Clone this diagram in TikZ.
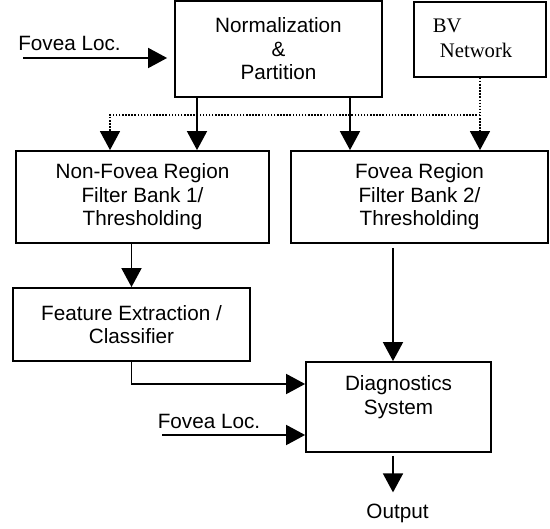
\documentclass[tikz,border=0pt]{standalone}
\usepackage{fontspec}
\setmainfont{Liberation Sans}
\newfontfamily\bvfont{Liberation Serif}
\usetikzlibrary{arrows.meta}

\begin{document}
\begin{tikzpicture}
  [x=1pt,y=-1pt,line width=1.8pt,
   every node/.style={font=\fontsize{20.7}{23.5}\selectfont,align=center},
   blk/.style={draw,rectangle,inner sep=0pt},
   arr/.style={-{Triangle[length=19pt,width=20pt]}},
   dots/.style={line width=1.5pt,dash pattern=on 1.5pt off 1.6pt}]
  \useasboundingbox (0,0) rectangle (550,529);
  \node[blk,minimum width=207,minimum height=96] (norm) at (278.5,49) {Normalization\\\&\\Partition};
  \node[blk,minimum width=132,minimum height=75] (bv) at (480,39.5) {};
  \node[anchor=north west,align=left,inner sep=0pt,
        font=\bvfont\fontsize{20.7}{25}\selectfont] (bvtxt) at (432,18) {BV\\\hspace*{7pt}Network};
  \node[blk,minimum width=253,minimum height=92] (nonfov) at (142.5,197) {Non-Fovea Region\\Filter Bank 1/\\Thresholding};
  \node[blk,minimum width=257,minimum height=92] (fov) at (419.5,197) {Fovea Region\\Filter Bank 2/\\Thresholding};
  \node[blk,minimum width=237,minimum height=73] (feat) at (131.5,324.5) {Feature Extraction /\\Classifier};
  \node[blk,minimum width=185,minimum height=90] (diag) at (398.5,407) {Diagnostics\\System\\~};
  \node (locA) at (69.5,43) {Fovea Loc.};
  \node (locB) at (209,421) {Fovea Loc.};
  \node (out) at (397.5,513) {Output};

  \coordinate (inA) at (23,58);
  \coordinate (inB) at (162,435);
  \coordinate (split) at (480,115);

  \draw[arr,shorten >=7pt] (inA) -- (inA -| norm.west);
  \foreach \xx/\to in {197/nonfov,350/fov}
    \draw[arr] (\xx,0 |- norm.south) -- (\xx,0 |- \to.north);
  \draw[dots] (bv.south) -- (split);
  \draw[dots,arr] (split) -| (110,0 |- nonfov.north);
  \draw[dots,arr] (split) -- (split |- fov.north);
  \draw[arr] (nonfov.south -| feat.north) -- (feat.north);
  \draw[arr] (feat.south) |- ([yshift=23pt]diag.west);
  \draw[arr] (inB) -- (inB -| diag.west);
  \draw[arr,shorten <=4pt] (393,0 |- fov.south) -- (393,0 |- diag.north);
  \draw[arr,shorten <=3pt,shorten >=7pt] (393,0 |- diag.south) -- (393,0 |- out.north);
\end{tikzpicture}
\end{document}
